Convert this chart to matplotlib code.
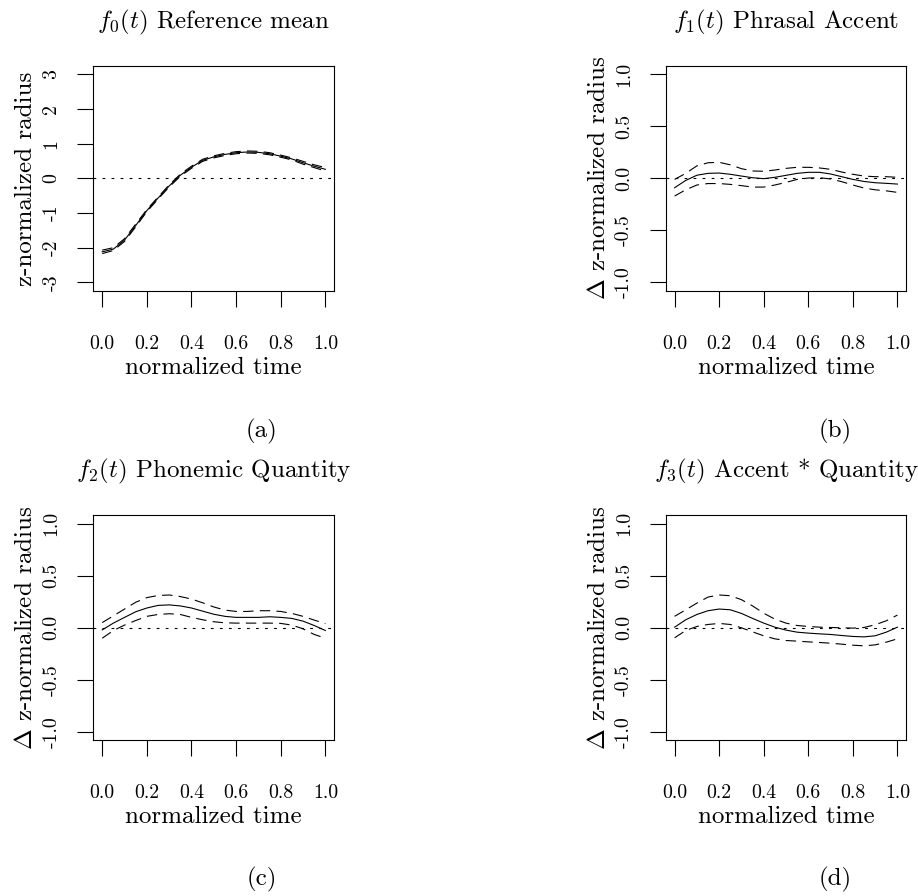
import matplotlib
matplotlib.use("Agg")
import matplotlib.pyplot as plt

plt.rcParams['font.family'] = ['cmr10', 'DejaVu Serif']
plt.rcParams['mathtext.fontset'] = 'cm'
plt.rcParams['axes.unicode_minus'] = False
plt.rcParams['lines.scale_dashes'] = False

W, H = 918, 896

time = [0.00, 0.05, 0.10, 0.15, 0.20, 0.25, 0.30, 0.35, 0.40, 0.45, 0.50,
        0.55, 0.60, 0.65, 0.70, 0.75, 0.80, 0.85, 0.90, 0.95, 1.00]

# (a) reference mean with confidence band
mean_a = [-2.12, -2.04, -1.78, -1.36, -0.93, -0.57, -0.22, 0.09, 0.32, 0.52, 0.62,
          0.69, 0.74, 0.76, 0.75, 0.71, 0.64, 0.56, 0.45, 0.35, 0.26]
upper_a = [-2.07, -2.00, -1.74, -1.32, -0.90, -0.54, -0.19, 0.12, 0.35, 0.55, 0.65,
           0.72, 0.77, 0.79, 0.78, 0.74, 0.67, 0.59, 0.49, 0.39, 0.31]
lower_a = [-2.17, -2.08, -1.82, -1.40, -0.96, -0.60, -0.25, 0.06, 0.29, 0.49, 0.59,
           0.66, 0.71, 0.73, 0.72, 0.68, 0.61, 0.53, 0.41, 0.31, 0.21]

# (b) phrasal accent
mean_b = [-0.09, -0.02, 0.03, 0.048, 0.051, 0.039, 0.022, 0.006, -0.003, 0.01, 0.029,
          0.048, 0.058, 0.058, 0.042, 0.016, -0.01, -0.03, -0.042, -0.048, -0.055]
upper_b = [-0.01, 0.048, 0.12, 0.15, 0.154, 0.13, 0.093, 0.071, 0.068, 0.08, 0.096,
           0.106, 0.106, 0.10, 0.087, 0.061, 0.039, 0.022, 0.016, 0.016, 0.01]
lower_b = [-0.17, -0.11, -0.064, -0.05, -0.05, -0.058, -0.07, -0.084, -0.084, -0.064, -0.039,
           -0.01, 0.003, 0.006, -0.006, -0.032, -0.064, -0.093, -0.11, -0.12, -0.135]

# (c) phonemic quantity
mean_c = [-0.02, 0.045, 0.10, 0.154, 0.19, 0.215, 0.22, 0.21, 0.19, 0.16, 0.13,
          0.11, 0.10, 0.10, 0.10, 0.106, 0.10, 0.09, 0.064, 0.022, -0.026]
upper_c = [0.05, 0.115, 0.18, 0.245, 0.29, 0.31, 0.315, 0.30, 0.276, 0.24, 0.20,
           0.17, 0.157, 0.157, 0.164, 0.164, 0.157, 0.138, 0.11, 0.074, 0.04]
lower_c = [-0.10, -0.026, 0.026, 0.07, 0.11, 0.128, 0.135, 0.128, 0.10, 0.077, 0.058,
           0.048, 0.045, 0.045, 0.045, 0.045, 0.042, 0.026, -0.01, -0.064, -0.10]

# (d) accent * quantity
mean_d = [0.006, 0.077, 0.128, 0.164, 0.18, 0.173, 0.138, 0.09, 0.045, 0.006, -0.022,
          -0.042, -0.051, -0.058, -0.064, -0.074, -0.083, -0.087, -0.077, -0.042, 0.006]
upper_d = [0.11, 0.173, 0.237, 0.295, 0.315, 0.308, 0.27, 0.21, 0.14, 0.083, 0.045,
           0.022, 0.013, 0.006, 0.003, 0.0, -0.003, 0.003, 0.029, 0.067, 0.122]
lower_d = [-0.096, -0.026, 0.013, 0.032, 0.042, 0.032, 0.0, -0.039, -0.077, -0.106, -0.122,
           -0.128, -0.135, -0.141, -0.148, -0.157, -0.167, -0.173, -0.164, -0.138, -0.106]

titles = [r"$f_0(t)$ Reference mean", r"$f_1(t)$ Phrasal Accent",
          r"$f_2(t)$ Phonemic Quantity", r"$f_3(t)$ Accent * Quantity"]
ylabels = ["z-normalized radius", r"$\Delta$ z-normalized radius",
           r"$\Delta$ z-normalized radius", r"$\Delta$ z-normalized radius"]
sub_labels = ["(a)", "(b)", "(c)", "(d)"]
x_ticks = [0.0, 0.2, 0.4, 0.6, 0.8, 1.0]
x_ticklabels = ["0.0", "0.2", "0.4", "0.6", "0.8", "1.0"]
y_ticks_a = [-3, -2, -1, 0, 1, 2, 3]
y_ticklabels_a = ["-3", "-2", "-1", "0", "1", "2", "3"]
y_ticks_d = [-1.0, -0.5, 0.0, 0.5, 1.0]
y_ticklabels_d = ["-1.0", "-0.5", "0.0", "0.5", "1.0"]

panels = [
    (mean_a, upper_a, lower_a, y_ticks_a, y_ticklabels_a, (-3.24, 3.24)),
    (mean_b, upper_b, lower_b, y_ticks_d, y_ticklabels_d, (-1.08, 1.08)),
    (mean_c, upper_c, lower_c, y_ticks_d, y_ticklabels_d, (-1.08, 1.08)),
    (mean_d, upper_d, lower_d, y_ticks_d, y_ticklabels_d, (-1.08, 1.08)),
]

# pixel boxes of the four plot regions: left, top, right, bottom
boxes = [(93.3, 66.0, 334.3, 290.7), (665.7, 66.0, 906.3, 290.7),
         (93.3, 515.3, 334.3, 740.3), (665.7, 515.3, 906.3, 740.3)]
sub_pos = [(262, 437.5), (834.7, 437.5), (262, 885.5), (834.7, 885.5)]

fig = plt.figure(figsize=(W / 100, H / 100), dpi=100)

DASH = (0, (7.5, 4.5))
DOT = (0, (2.0, 4.5))
FS = 18
TICK_FS = 14.3

for i, (m, up, lo, yt, ytl, ylim) in enumerate(panels):
    l, t, r, b = boxes[i]
    ax = fig.add_axes([l / W, 1 - b / H, (r - l) / W, (b - t) / H])
    ax.plot(time, m, color='black', lw=0.8)
    ax.plot(time, up, color='black', lw=0.8, linestyle=DASH)
    ax.plot(time, lo, color='black', lw=0.8, linestyle=DASH)
    ax.axhline(0, color='black', lw=0.8, linestyle=DOT)
    ax.set_xlim(-0.04, 1.04)
    ax.set_ylim(*ylim)
    for s in ax.spines.values():
        s.set_linewidth(0.8)
    ax.tick_params(direction='out', length=11.2, width=0.8, labelsize=TICK_FS)
    ax.tick_params(axis='x', pad=30.5)
    ax.tick_params(axis='y', pad=15.3)
    ax.set_xticks(x_ticks, x_ticklabels)
    ax.set_yticks(yt, ytl)
    for lbl in ax.get_xticklabels():
        lbl.set_va('baseline')
    for lbl in ax.get_yticklabels():
        lbl.set_rotation(90)
        lbl.set_rotation_mode('anchor')
        lbl.set_ha('center')
        lbl.set_va('baseline')

    cx = (l + r) / 2
    cy = (t + b) / 2
    fig.text(cx / W, 1 - (t - 37.5) / H, titles[i], fontsize=FS,
             ha='center', va='baseline')
    fig.text(cx / W, 1 - (b + 83.0) / H, "normalized time", fontsize=FS,
             ha='center', va='baseline')
    fig.text((l - 61.0) / W, 1 - cy / H, ylabels[i], fontsize=FS, rotation=90,
             rotation_mode='anchor', ha='center', va='baseline')
    sx, sy = sub_pos[i]
    fig.text(sx / W, 1 - sy / H, sub_labels[i], fontsize=FS,
             ha='center', va='baseline')

fig.savefig("out.png", dpi=100)
